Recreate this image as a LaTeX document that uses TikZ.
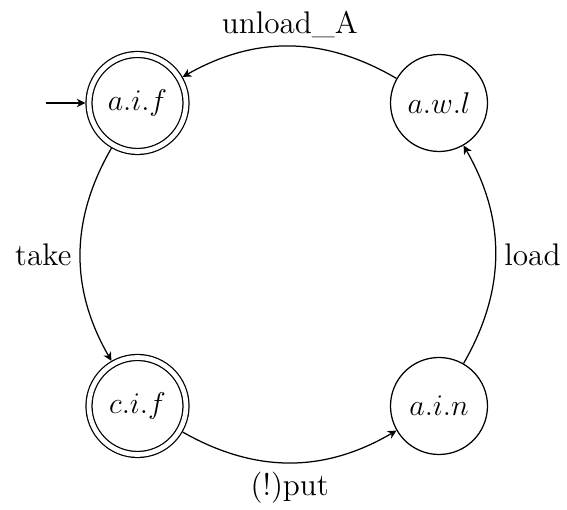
\documentclass[tikz,border=0pt]{standalone}
\usetikzlibrary{arrows.meta}
\begin{document}
\begin{tikzpicture}[x=0.4pt,y=-0.4pt,
  font=\fontsize{12.5}{15}\selectfont,
  line width=0.5pt,
  >={Stealth[length=3.4pt,width=3.4pt,inset=1pt]},
  stnode/.style={draw,circle,minimum size=38.8pt,inner sep=0pt},
  accnode/.style={stnode,double,double distance=1.9pt,outer sep=1.45pt},
  trans/.style={->,bend right=30}]
\useasboundingbox (0,0) rectangle (567,510);
\node[accnode] (aif) at (137.5,103) {$a.i.f$};
\node[stnode]  (awl) at (439,103) {$a.w.l$};
\node[accnode] (cif) at (137.5,406) {$c.i.f$};
\node[stnode]  (ain) at (439,406) {$a.i.n$};
\coordinate (init) at (46,103);
\draw[->] (init) -- (aif);
\draw[trans] (awl) to node[above] {unload\_A} (aif);
\draw[trans] (aif) to node[left] {take} (cif);
\draw[trans] (cif) to node[below] {(!)put} (ain);
\draw[trans] (ain) to node[right] {load} (awl);
\end{tikzpicture}
\end{document}
